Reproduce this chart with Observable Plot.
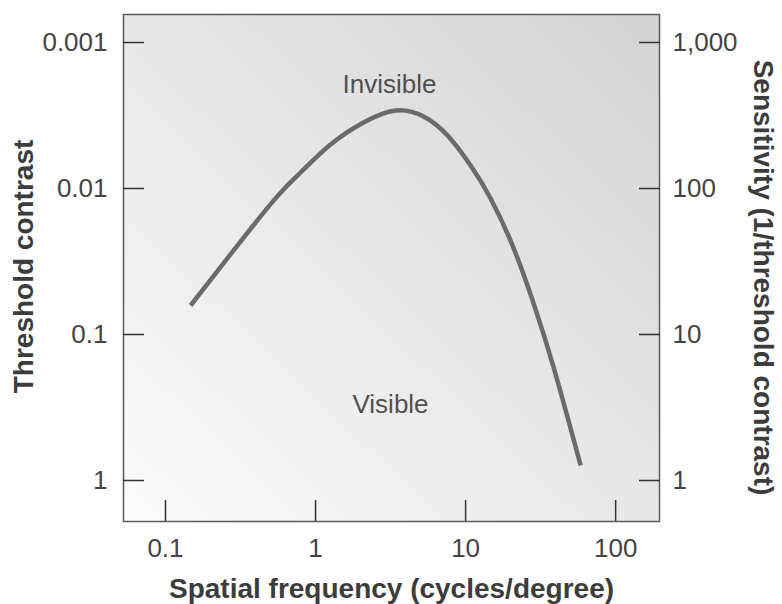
<!DOCTYPE html>
<html>
<head>
<meta charset="utf-8">
<script src="https://cdn.jsdelivr.net/npm/d3@7"></script>
<script src="https://cdn.jsdelivr.net/npm/@observablehq/plot@0.6"></script>
<style>
  body { margin: 0; background: #ffffff; }
  #chart svg { display: block; }
</style>
</head>
<body>
<div id="chart"></div>
<script>
// Contrast sensitivity function
const frequency = [0.147, 0.271, 0.525, 0.794, 1.259, 2.089, 3.415, 5.248, 7.586, 10.80, 14.68, 20.57, 27.97, 38.61, 58.45];
const thresholdContrast = [0.0633, 0.0283, 0.0121, 0.00777, 0.00500, 0.00353, 0.00292, 0.00321, 0.00434, 0.00696, 0.0117, 0.0246, 0.0585, 0.168, 0.789];

// Ticks and labels
const xTicks = [0.1, 1, 10, 100];
const xTickLabels = ["0.1", "1", "10", "100"];
const yTicks = [0.001, 0.01, 0.1, 1];
const contrastLabels = ["0.001", "0.01", "0.1", "1"];
const sensitivityLabels = ["1,000", "100", "10", "1"];

// Region annotations (data coordinates)
const regionLabels = ["Invisible", "Visible"];
const regionFreq = [3.11, 3.16];
const regionContrast = [0.00194, 0.3015];

// Axis extents
const xDomain = [0.0525, 196];
const yDomain = [0.000643, 1.909];

const xTitle = "Spatial frequency (cycles/degree)";
const yTitleLeft = "Threshold contrast";
const yTitleRight = "Sensitivity (1/threshold contrast)";

const curve = frequency.map((f, i) => ({f, c: thresholdContrast[i]}));
const regions = regionLabels.map((t, i) => ({t, f: regionFreq[i], c: regionContrast[i]}));

const chart = Plot.plot({
  width: 782,
  height: 604,
  marginLeft: 123,
  marginRight: 123,
  marginTop: 14,
  marginBottom: 83,
  style: {fontFamily: "'Liberation Sans', Arial, Helvetica, sans-serif", color: "#444", background: "transparent", overflow: "visible"},
  x: {type: "log", domain: xDomain, axis: null},
  y: {type: "log", domain: yDomain, reverse: true, axis: null},
  marks: [
    Plot.frame({fill: "url(#bgGrad)", stroke: "#5a5a5a", strokeWidth: 1.5}),
    Plot.line(curve, {x: "f", y: "c", stroke: "#6b6b6b", strokeWidth: 4.5, curve: "natural", strokeLinecap: "butt"}),
    Plot.text(regions, {x: "f", y: "c", text: "t", fontSize: 26, fill: "#505050", lineAnchor: "middle"}),
    // x axis: inward ticks + labels
    Plot.axisX(xTicks, {anchor: "bottom", tickSize: -21, fill: "none", stroke: "#333", strokeWidth: 1.5, label: null}),
    Plot.axisX(xTicks, {anchor: "bottom", tickSize: 0, tickPadding: 17, fontSize: 26, fill: "#444", label: null,
      tickFormat: d => xTickLabels[xTicks.indexOf(d)]}),
    // left y axis
    Plot.axisY(yTicks, {anchor: "left", tickSize: -21, fill: "none", stroke: "#333", strokeWidth: 1.5, label: null}),
    Plot.axisY(yTicks, {anchor: "left", tickSize: 0, tickPadding: 16, fontSize: 26, fill: "#444", label: null,
      tickFormat: d => contrastLabels[yTicks.indexOf(d)]}),
    // right y axis (sensitivity)
    Plot.axisY(yTicks, {anchor: "right", tickSize: -21, fill: "none", stroke: "#333", strokeWidth: 1.5, label: null}),
    Plot.axisY(yTicks, {anchor: "right", tickSize: 0, tickPadding: 13, fontSize: 26, fill: "#444", label: null,
      tickFormat: d => sensitivityLabels[yTicks.indexOf(d)]}),
    // axis titles
    Plot.text([xTitle], {frameAnchor: "bottom", dy: 67.5, fontSize: 28, fontWeight: "bold", fill: "#3c3c3c", textAnchor: "middle", lineAnchor: "middle"}),
    Plot.text([yTitleLeft], {frameAnchor: "left", rotate: -90, dx: -99, dy: -1.5, fontSize: 28, fontWeight: "bold", fill: "#3c3c3c", textAnchor: "middle", lineAnchor: "middle"}),
    Plot.text([yTitleRight], {frameAnchor: "right", rotate: 90, dx: 103, dy: 9.5, fontSize: 28, fontWeight: "bold", fill: "#3c3c3c", textAnchor: "middle", lineAnchor: "middle"})
  ]
});

// Background gradient for the plot frame
const defs = d3.select(chart).insert("defs", ":first-child");
const grad = defs.append("linearGradient").attr("id", "bgGrad")
  .attr("x1", 0).attr("y1", 1).attr("x2", 1).attr("y2", 0);
grad.append("stop").attr("offset", "0%").attr("stop-color", "#fbfbfb");
grad.append("stop").attr("offset", "100%").attr("stop-color", "#d3d3d3");

document.getElementById("chart").appendChild(chart);
</script>
</body>
</html>
